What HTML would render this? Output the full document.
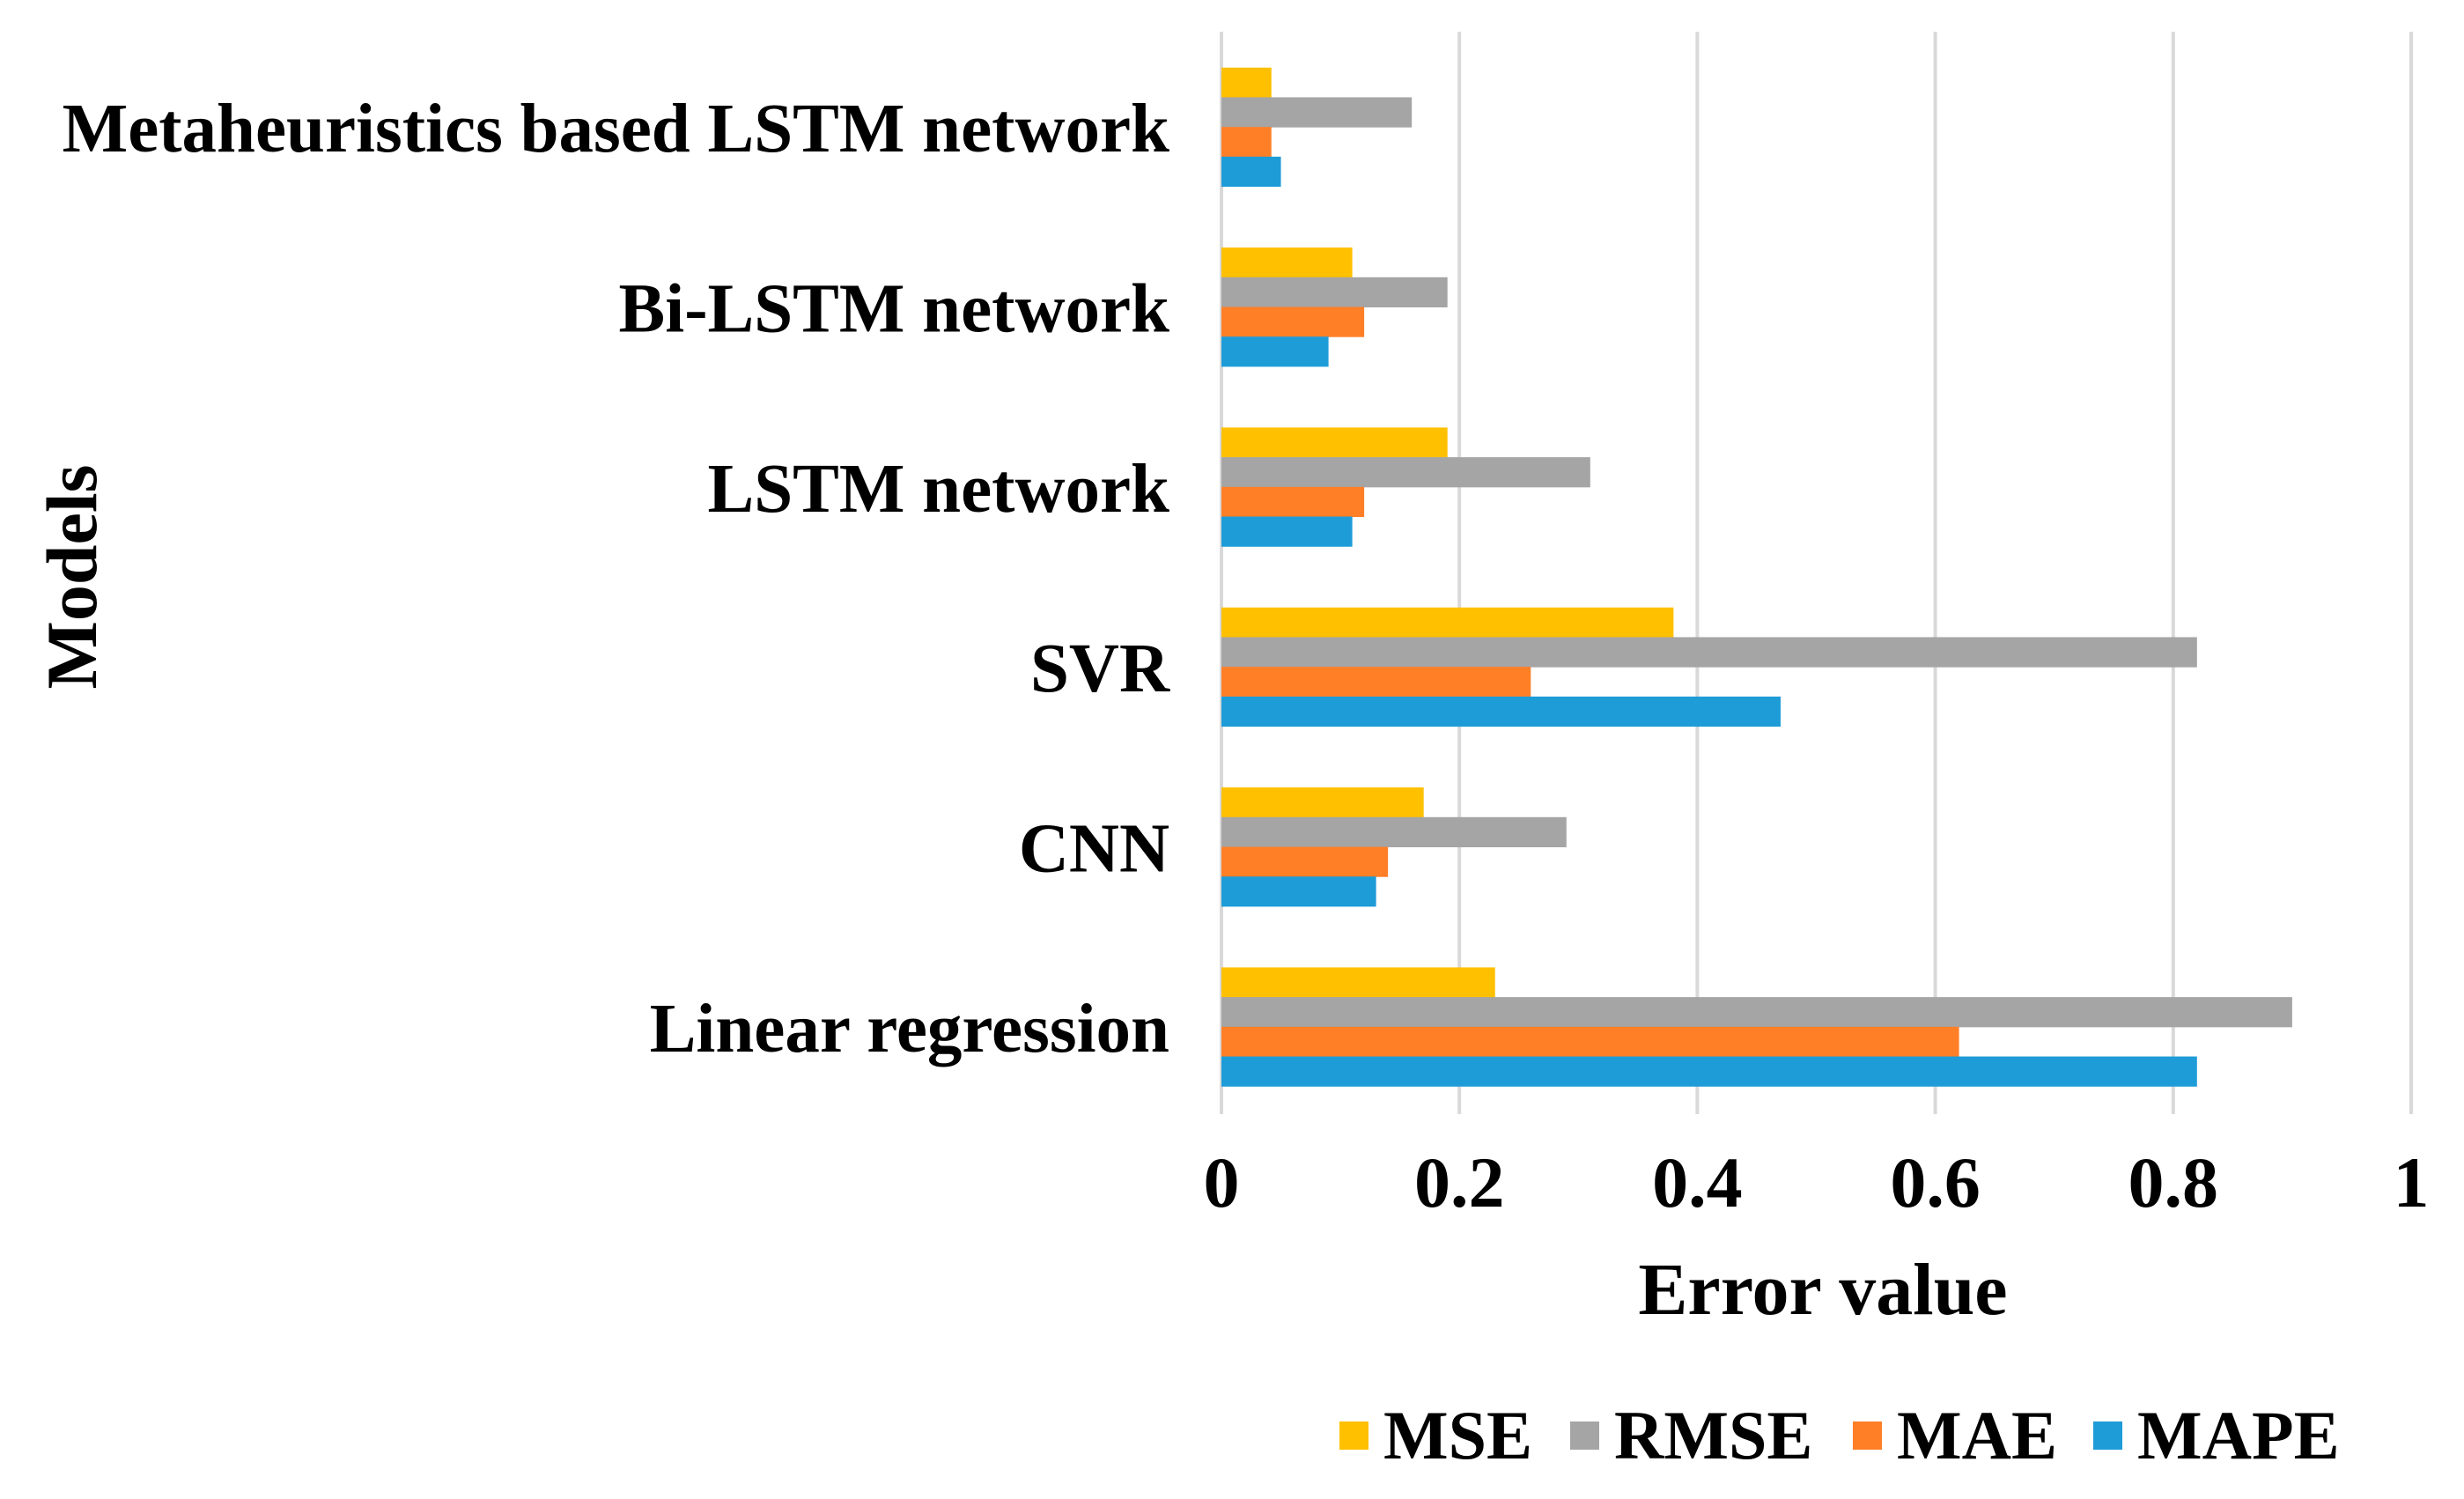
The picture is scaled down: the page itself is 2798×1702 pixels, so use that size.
<!DOCTYPE html>
<html><head><meta charset="utf-8"><style>
html,body{margin:0;padding:0;background:#fff;}
svg{display:block;}
text{font-family:"Liberation Serif","Times New Roman",serif;font-weight:bold;fill:#000;}
</style></head><body>
<svg id="chart" width="2798" height="1702" viewBox="0 0 2798 1702" xmlns="http://www.w3.org/2000/svg">
<g id="grid"></g>
<g id="bars"></g>
<g id="cats"></g>
<g id="ticks"></g>
<text x="109" y="655" font-family="Liberation Serif, serif" font-weight="bold" font-size="82" text-anchor="middle" transform="rotate(-90 109 655)">Models</text>
<text x="2070" y="1492" font-family="Liberation Serif, serif" font-weight="bold" font-size="84" text-anchor="middle">Error value</text>
<g id="legend"></g>
</svg>
<script>
const categories = ["Metaheuristics based LSTM network","Bi-LSTM network","LSTM network","SVR","CNN","Linear regression"];
const seriesNames = ["MSE","RMSE","MAE","MAPE"];
const mse  = [0.042,0.11,0.19,0.38,0.17,0.23];
const rmse = [0.16,0.19,0.31,0.82,0.29,0.90];
const mae  = [0.042,0.12,0.12,0.26,0.14,0.62];
const mape = [0.05,0.09,0.11,0.47,0.13,0.82];
const xTicks = [0,0.2,0.4,0.6,0.8,1];
const xTickLabels = ["0","0.2","0.4","0.6","0.8","1"];

const colors = ["#FFC000","#A5A5A5","#FF7F27","#1E9CD8"];
const series = [mse,rmse,mae,mape];
const NS="http://www.w3.org/2000/svg";
const x0=1387, x1=2738, yTop=36, yBot=1265, bandTop=42, bandBot=1268;
const xs = v => x0 + v*(x1-x0);
const band = (bandBot-bandTop)/categories.length;
const barH = band*0.66/4;
function mk(tag, attrs, parent){const e=document.createElementNS(NS,tag);for(const k in attrs)e.setAttribute(k,attrs[k]);parent.appendChild(e);return e;}
const grid=document.getElementById('grid'), bars=document.getElementById('bars'), cats=document.getElementById('cats'), ticks=document.getElementById('ticks'), legend=document.getElementById('legend');
const ff={'font-family':'Liberation Serif, serif','font-weight':'bold'};
xTicks.forEach((t,i)=>{
  const l=mk('line',{x1:xs(t),x2:xs(t),y1:yTop,y2:yBot,stroke:'#D9D9D9','stroke-width':4},grid);
  
  
  const tx=mk('text',Object.assign({x:xs(t),y:1370,'font-size':82,'text-anchor':'middle'},ff),ticks);
  tx.textContent=xTickLabels[i];
  
  
});
categories.forEach((c,i)=>{
  const top=bandTop+i*band;
  const gy=top+(band-4*barH)/2;
  series.forEach((s,j)=>{
    const r=mk('rect',{x:x0,y:gy+j*barH,width:xs(s[i])-x0,height:barH+0.5,fill:colors[j]},bars);
    
    
  });
  const t=mk('text',Object.assign({x:1328,y:top+band/2+28,'font-size':79,'text-anchor':'end'},ff),cats);
  t.textContent=c;
  
  
});
const legX=[1521,1783,2104,2377];
seriesNames.forEach((n,j)=>{
  const r=mk('rect',{x:legX[j],y:1614,width:33,height:32,fill:colors[j]},legend);
  
  
  const t=mk('text',Object.assign({x:legX[j]+50,y:1656,'font-size':78},ff),legend);
  t.textContent=n;
  
  
});
</script>
</body></html>
